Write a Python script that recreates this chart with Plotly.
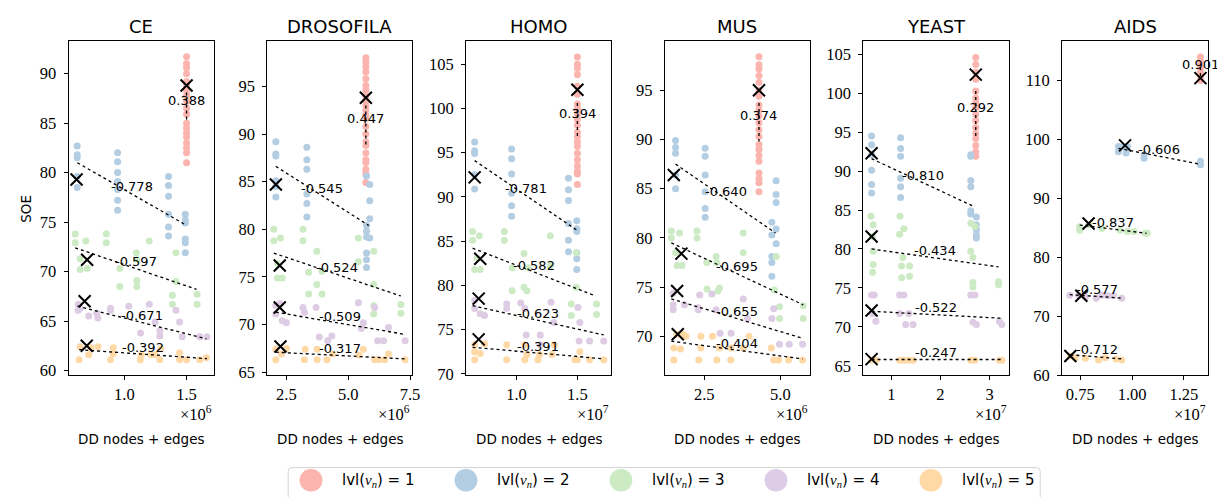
import plotly.graph_objects as go

W, H = 1225, 497
COLORS = ["#fbb4ae", "#b3cde3", "#ccebc5", "#decbe4", "#fed9a6"]
LEVEL_NAMES = ["1", "2", "3", "4", "5"]

# ---------------- CE (x in 1e6) ----------------
CE_X = [
    [1.5] * 19,
    [0.62] * 5 + [0.945] * 7 + [1.355] * 6 + [1.49] * 6,
    [0.604, 0.604, 0.689, 0.644, 0.644, 0.70, 0.854, 0.854, 0.963, 0.963, 1.096, 1.1, 1.1, 1.1, 1.2, 1.415, 1.415, 1.386, 1.386, 1.585, 1.585],
    [0.628, 0.628, 0.644, 0.713, 0.777, 0.787, 0.888, 0.888, 1.035, 1.13, 1.2, 1.247, 1.285, 1.285, 1.415, 1.444, 1.465, 1.606, 1.665],
    [0.636, 0.644, 0.713, 0.73, 0.787, 0.888, 0.91, 0.91, 1.128, 1.136, 1.215, 1.247, 1.285, 1.293, 1.444, 1.444, 1.5, 1.606, 1.66],
]
CE_Y = [
    [91.7, 91.0, 90.6, 90.0, 89.2, 88.8, 88.3, 87.8, 87.2, 86.5, 85.9, 85.0, 84.5, 84.0, 83.6, 83.0, 82.5, 82.0, 81.0],
    [82.7, 81.8, 81.5, 79.6, 78.5, 82.0, 81.1, 80.0, 79.1, 78.3, 77.2, 76.2, 79.6, 78.7, 77.6, 75.8, 74.5, 73.6, 75.8, 75.2, 74.9, 73.3, 72.9, 71.9],
    [73.8, 72.9, 73.1, 71.3, 70.2, 70.3, 73.8, 72.9, 70.3, 68.5, 71.9, 71.2, 69.1, 68.5, 73.1, 71.9, 69.0, 67.6, 66.7, 67.7, 66.7],
    [66.7, 66.1, 66.3, 65.5, 65.8, 65.3, 66.3, 66.1, 66.5, 63.8, 66.7, 64.9, 64.0, 63.5, 66.1, 64.9, 63.4, 63.4, 63.4],
    [61.1, 62.4, 61.6, 62.3, 62.4, 61.1, 62.3, 61.7, 61.1, 61.6, 61.6, 61.6, 61.1, 62.2, 61.8, 61.1, 61.1, 61.1, 61.3],
]
CE_CROSS_X = [1.5, 0.615, 0.70, 0.68, 0.697]
CE_CROSS_Y = [88.8, 79.3, 71.2, 67.0, 62.5]
CE_TREND_X = [[1.5, 1.5], [0.622, 1.495], [0.604, 1.58], [0.622, 1.66], [0.636, 1.665]]
CE_TREND_Y = [[88.1, 85.1], [81.0, 74.7], [72.4, 68.2], [66.5, 63.2], [62.1, 61.2]]
CE_R = ["0.388", "-0.778", "-0.597", "-0.671", "-0.392"]

# ---------------- DROSOFILA (x in 1e6) ----------------
DR_X = [
    [5.713] * 23,
    [2.073] * 6 + [3.327] * 6 + [5.74, 5.87, 5.87, 5.87, 5.74, 5.74, 5.74, 5.87, 5.74, 5.74, 5.74],
    [1.99, 1.99, 2.26, 2.14, 2.14, 2.33, 3.17, 3.17, 3.73, 3.73, 3.94, 3.94, 3.4, 3.4, 5.41, 5.41, 6.03, 6.03, 6.03, 6.03, 7.13, 7.13],
    [2.07, 2.07, 2.23, 2.33, 2.5, 3.17, 3.23, 3.7, 3.83, 4.17, 4.34, 5.41, 5.61, 5.53, 6.07, 6.19, 6.43, 6.63, 7.3],
    [2.07, 2.07, 2.3, 2.5, 3.26, 3.23, 3.74, 3.74, 4.14, 4.37, 5.61, 5.43, 6.07, 6.23, 6.47, 6.63, 7.3],
]
DR_Y = [
    [98.0, 97.5, 97.0, 96.5, 95.8, 95.1, 94.6, 94.0, 93.5, 93.0, 92.5, 92.0, 91.6, 90.8, 90.0, 89.2, 88.8, 88.0, 87.3, 87.0, 86.3, 85.8, 84.9],
    [89.2, 87.9, 87.7, 85.1, 84.5, 83.4, 88.6, 87.3, 86.3, 83.7, 82.7, 81.3, 85.6, 84.7, 83.0, 81.1, 80.4, 79.8, 79.2, 79.1, 77.5, 76.8, 76.0],
    [80.0, 78.8, 79.1, 76.4, 74.9, 74.9, 80.0, 78.8, 77.7, 74.2, 73.2, 75.6, 75.5, 73.2, 76.6, 79.1, 77.7, 74.2, 72.0, 71.1, 72.1, 71.2],
    [72.0, 71.1, 72.2, 70.4, 70.2, 71.8, 71.3, 71.8, 68.7, 68.3, 68.8, 72.3, 70.2, 69.6, 71.8, 68.3, 68.3, 69.7, 68.3],
    [66.3, 67.4, 66.9, 67.5, 67.4, 66.3, 66.3, 67.4, 66.3, 66.9, 67.4, 66.8, 66.3, 66.3, 66.3, 66.9, 66.3],
]
DR_CROSS_X = [5.713, 2.073, 2.23, 2.23, 2.26]
DR_CROSS_Y = [93.8, 84.7, 76.2, 71.8, 67.7]
DR_TREND_X = [[5.713, 5.713], [2.073, 5.833], [1.99, 7.13], [2.07, 7.23], [2.07, 7.3]]
DR_TREND_Y = [[93.0, 88.7], [86.6, 80.4], [77.5, 73.0], [71.3, 69.0], [67.1, 66.4]]
DR_R = ["0.447", "-0.545", "-0.524", "-0.509", "-0.317"]

# ---------------- HOMO (x in 1e7) ----------------
HO_X = [
    [1.5] * 21,
    [0.657] * 5 + [0.96] * 6 + [1.427] * 6 + [1.495] * 6,
    [0.64, 0.64, 0.695, 0.676, 0.657, 0.703, 0.9, 0.9, 0.965, 0.965, 1.062, 1.062, 1.086, 1.094, 1.278, 1.278, 1.45, 1.45, 1.49, 1.49, 1.657, 1.657],
    [0.657, 0.657, 0.703, 0.738, 0.92, 0.92, 1.035, 1.08, 1.068, 1.195, 1.195, 1.284, 1.305, 1.505, 1.52, 1.514, 1.6, 1.716],
    [0.657, 0.657, 0.657, 0.703, 0.738, 0.92, 0.92, 1.068, 1.068, 1.086, 1.176, 1.19, 1.292, 1.311, 1.48, 1.5, 1.52, 1.6, 1.716],
]
HO_Y = [
    [105.8, 105.0, 104.5, 103.8, 102.5, 101.6, 100.5, 100.0, 99.4, 98.8, 98.1, 97.3, 96.8, 96.2, 95.7, 94.9, 94.2, 93.5, 92.9, 92.6, 91.4],
    [96.2, 95.2, 94.9, 92.5, 90.9, 95.4, 94.3, 92.6, 90.4, 89.0, 87.8, 92.1, 90.8, 89.6, 87.0, 85.1, 83.8, 87.3, 86.4, 86.1, 83.7, 83.0, 81.8],
    [86.1, 85.1, 85.6, 83.1, 81.8, 81.8, 86.1, 85.1, 82.0, 79.4, 83.6, 79.8, 79.4, 82.0, 85.6, 82.2, 77.9, 76.6, 83.7, 79.8, 77.9, 76.7],
    [78.3, 77.4, 76.8, 76.6, 77.9, 77.4, 78.0, 74.4, 77.4, 74.4, 73.3, 78.1, 75.8, 77.5, 75.8, 73.7, 73.7, 73.7],
    [73.3, 72.5, 71.6, 72.3, 73.4, 73.3, 71.6, 73.3, 71.6, 72.2, 71.6, 72.2, 72.2, 73.3, 71.6, 71.6, 72.5, 71.6, 71.6],
]
HO_CROSS_X = [1.5, 0.657, 0.703, 0.69, 0.69]
HO_CROSS_Y = [102.1, 92.2, 83.0, 78.5, 73.9]
HO_TREND_X = [[1.5, 1.5], [0.657, 1.5], [0.64, 1.65], [0.64, 1.716], [0.64, 1.716]]
HO_TREND_Y = [[100.6, 96.6], [94.1, 86.2], [84.2, 78.8], [77.7, 74.4], [73.0, 71.7]]
HO_R = ["0.394", "-0.781", "-0.582", "-0.623", "-0.391"]

# ---------------- MUS (x in 1e6) ----------------
MU_X = [
    [4.297] * 21,
    [1.558] * 5 + [2.53] * 6 + [4.86, 4.86, 4.86, 4.72, 4.86, 4.72, 4.86, 4.72, 4.72, 4.72],
    [1.418, 1.418, 1.69, 1.56, 1.61, 1.77, 2.26, 2.26, 2.59, 2.59, 2.89, 2.91, 3.0, 2.95, 3.78, 3.78, 4.8, 4.86, 4.97, 4.97, 5.75, 5.75],
    [1.48, 1.48, 1.48, 1.85, 2.35, 2.3, 2.3, 2.75, 2.89, 3.02, 3.38, 3.78, 3.92, 4.72, 4.78, 4.97, 5.29, 5.73],
    [1.5, 1.5, 1.72, 1.6, 1.8, 1.9, 2.32, 2.39, 2.39, 2.77, 2.91, 3.0, 3.37, 3.37, 3.97, 3.78, 4.7, 4.78, 4.94, 5.27, 5.73],
]
MU_Y = [
    [98.4, 97.6, 97.2, 96.5, 95.8, 95.0, 94.4, 93.5, 93.0, 92.4, 91.7, 91.0, 90.3, 89.5, 89.0, 88.4, 87.8, 86.6, 86.0, 85.6, 84.7],
    [89.9, 89.2, 88.6, 86.4, 85.0, 89.1, 88.3, 86.4, 84.7, 83.0, 82.1, 85.8, 84.4, 83.6, 81.6, 80.9, 80.3, 79.4, 78.1, 77.5, 76.1],
    [80.7, 80.0, 80.5, 78.5, 77.2, 77.2, 80.7, 80.0, 77.5, 74.8, 78.1, 77.5, 74.9, 74.6, 80.5, 78.5, 74.7, 78.1, 73.0, 71.8, 73.1, 71.8],
    [74.4, 73.2, 72.7, 73.2, 74.2, 72.9, 72.7, 74.3, 72.7, 70.3, 70.3, 73.8, 71.8, 71.8, 72.8, 69.2, 69.2, 69.2],
    [68.8, 67.6, 68.7, 70.2, 70.2, 70.0, 67.6, 70.0, 68.8, 70.0, 67.6, 68.8, 68.8, 67.6, 70.0, 68.8, 68.8, 67.6, 67.6, 67.6, 67.6],
]
MU_CROSS_X = [4.297, 1.5, 1.75, 1.61, 1.63]
MU_CROSS_Y = [95.0, 86.4, 78.4, 74.6, 70.2]
MU_TREND_X = [[4.297, 4.297], [1.558, 4.84], [1.418, 5.75], [1.418, 5.73], [1.418, 5.73]]
MU_TREND_Y = [[93.7, 89.8], [87.5, 80.5], [79.5, 73.2], [73.8, 69.8], [69.5, 67.7]]
MU_R = ["0.374", "-0.640", "-0.695", "-0.655", "-0.404"]

# ---------------- YEAST (x in 1e7) ----------------
YE_X = [
    [2.718] * 16,
    [0.597] * 6 + [1.188] * 6 + [2.617] * 6 + [2.73] * 5,
    [0.584, 0.63, 0.617, 0.63, 0.63, 0.617, 1.174, 1.168, 1.255, 1.235, 1.21, 1.21, 1.37, 1.37, 2.617, 2.617, 2.7, 2.66, 2.66, 2.66, 3.18, 3.18],
    [0.597, 0.65, 0.617, 0.685, 1.168, 1.255, 1.168, 1.356, 1.29, 1.443, 2.617, 2.7, 2.66, 2.73, 3.2, 3.25],
    [0.597, 0.69, 1.168, 1.255, 1.35, 1.443, 2.617, 2.7, 3.2, 3.25],
]
YE_Y = [
    [104.6, 103.7, 102.7, 101.8, 100.3, 99.4, 98.8, 98.2, 97.3, 96.5, 95.6, 94.8, 94.2, 93.3, 92.5, 91.9],
    [94.5, 93.4, 92.1, 90.1, 88.3, 87.2, 94.3, 92.9, 91.9, 89.1, 88.0, 86.6, 92.1, 91.9, 88.8, 88.0, 84.9, 84.5, 84.1, 83.1, 82.5, 81.8, 81.4],
    [84.2, 83.1, 81.6, 79.7, 78.0, 77.0, 84.2, 81.9, 82.6, 78.9, 77.8, 76.3, 77.8, 76.5, 79.7, 83.3, 82.9, 78.9, 75.7, 75.1, 75.8, 75.4],
    [74.1, 74.1, 71.7, 70.7, 74.1, 74.1, 71.7, 71.7, 70.3, 70.3, 74.1, 74.1, 70.6, 70.3, 70.7, 70.3],
    [65.7, 65.7, 65.7, 65.7, 65.7, 65.7, 65.7, 65.7, 65.7, 65.7],
]
YE_CROSS_X = [2.718, 0.597, 0.597, 0.597, 0.597]
YE_CROSS_Y = [102.4, 92.3, 81.6, 72.1, 65.85]
YE_TREND_X = [[2.718, 2.718], [0.597, 2.70], [0.597, 3.18], [0.597, 3.235], [0.597, 3.235]]
YE_TREND_Y = [[100.3, 94.2], [91.6, 85.4], [80.0, 77.7], [72.0, 71.1], [65.8, 65.8]]
YE_R = ["0.292", "-0.810", "-0.434", "-0.522", "-0.247"]

# ---------------- AIDS (x in 1e7) ----------------
AI_X = [
    [1.33] * 6,
    [0.934, 0.934, 0.958, 0.971, 0.978, 1.058, 1.058, 1.33, 1.33],
    [0.747, 0.747, 0.79, 0.854, 0.942, 0.978, 1.01, 1.063, 1.074],
    [0.699, 0.742, 0.774, 0.827, 0.854, 0.883, 0.91, 0.95],
    [0.702, 0.726, 0.774, 0.838, 0.87, 0.923, 0.95],
]
AI_Y = [
    [114.0, 113.2, 112.3, 111.5, 110.7, 110.0],
    [98.8, 97.9, 98.8, 97.7, 98.8, 97.4, 96.8, 96.3, 95.7],
    [85.2, 84.6, 85.5, 84.9, 84.6, 84.4, 84.4, 84.1, 84.1],
    [73.6, 73.6, 73.3, 73.1, 73.6, 73.5, 73.5, 73.1],
    [63.3, 63.0, 62.9, 62.6, 63.0, 62.8, 62.6],
]
AI_CROSS_X = [1.33, 0.966, 0.79, 0.755, 0.702]
AI_CROSS_Y = [110.4, 99.0, 85.75, 73.5, 63.3]
AI_TREND_X = [[1.33, 1.33], [0.934, 1.33], [0.747, 1.07], [0.699, 0.958], [0.702, 0.958]]
AI_TREND_Y = [[112.3, 110.7], [98.5, 95.8], [85.5, 84.1], [73.7, 73.1], [63.5, 62.8]]
AI_R = ["0.901", "-0.606", "-0.837", "-0.577", "-0.712"]

TITLES = ["CE", "DROSOFILA", "HOMO", "MUS", "YEAST", "AIDS"]
EXPONENTS = ["6", "6", "7", "6", "7", "7"]
X_TICKS = [[1.0, 1.5], [2.5, 5.0, 7.5], [1.0, 1.5], [2.5, 5.0], [1, 2, 3], [0.75, 1.00, 1.25]]
X_TICKTEXT = [["1.0", "1.5"], ["2.5", "5.0", "7.5"], ["1.0", "1.5"], ["2.5", "5.0"], ["1", "2", "3"], ["0.75", "1.00", "1.25"]]
Y_TICKS = [list(range(60, 91, 5)), list(range(65, 96, 5)), list(range(70, 106, 5)),
           list(range(70, 96, 5)), list(range(65, 106, 5)), list(range(60, 111, 10))]

# layout (pixel geometry)
X_RANGES = [[0.551, 1.718], [1.727, 7.593], [0.586, 1.776], [1.201, 5.963], [0.43, 3.403], [0.662, 1.367]]
Y_RANGES = [[59.5, 93.27], [64.66, 99.73], [69.82, 107.58], [66.02, 99.98], [63.75, 106.68], [60.0, 116.64]]
PX_LEFT = [61, 261, 461, 661, 861, 1061]
PX_RIGHT = [207, 407, 607, 807, 1008, 1208]
PX_TOP, PX_BOTTOM = 34, 375

DATA = [
    (CE_X, CE_Y, CE_CROSS_X, CE_CROSS_Y, CE_TREND_X, CE_TREND_Y, CE_R),
    (DR_X, DR_Y, DR_CROSS_X, DR_CROSS_Y, DR_TREND_X, DR_TREND_Y, DR_R),
    (HO_X, HO_Y, HO_CROSS_X, HO_CROSS_Y, HO_TREND_X, HO_TREND_Y, HO_R),
    (MU_X, MU_Y, MU_CROSS_X, MU_CROSS_Y, MU_TREND_X, MU_TREND_Y, MU_R),
    (YE_X, YE_Y, YE_CROSS_X, YE_CROSS_Y, YE_TREND_X, YE_TREND_Y, YE_R),
    (AI_X, AI_Y, AI_CROSS_X, AI_CROSS_Y, AI_TREND_X, AI_TREND_Y, AI_R),
]

SANS = "DejaVu Sans"
SERIF = "Liberation Serif"


def px(xp):
    return xp / W


def py(yp):
    return (H - yp) / H


fig = go.Figure()
layout = dict(
    width=W, height=H, autosize=False,
    margin=dict(l=0, r=0, t=0, b=0),
    paper_bgcolor="white", plot_bgcolor="white",
    showlegend=False,
)
annotations = []
shapes = []
ydom = [py(PX_BOTTOM), py(PX_TOP)]

for i, (xs, ys, cx, cy, tx, ty, rr) in enumerate(DATA):
    k = "" if i == 0 else str(i + 1)
    xref, yref = "x" + k, "y" + k
    for lvl in range(5):
        fig.add_trace(go.Scatter(
            x=xs[lvl], y=ys[lvl], mode="markers", xaxis=xref, yaxis=yref,
            name="lvl " + LEVEL_NAMES[lvl],
            marker=dict(color=COLORS[lvl], size=7, line=dict(width=0)),
            hoverinfo="skip"))
    for lvl in range(5):
        fig.add_trace(go.Scatter(
            x=tx[lvl], y=ty[lvl], mode="lines", xaxis=xref, yaxis=yref,
            line=dict(color="black", width=1.3, dash="dot"),
            hoverinfo="skip"))
    fig.add_trace(go.Scatter(
        x=cx, y=cy, mode="markers", xaxis=xref, yaxis=yref,
        marker=dict(symbol="x-thin", size=12, line=dict(color="black", width=2)),
        hoverinfo="skip"))
    for lvl in range(5):
        annotations.append(dict(
            x=(tx[lvl][0] + tx[lvl][1]) / 2, y=(ty[lvl][0] + ty[lvl][1]) / 2,
            xref=xref, yref=yref, text=rr[lvl], showarrow=False,
            xanchor="center", yanchor="middle", yshift=7,
            font=dict(family=SANS, size=13, color="black")))
    xd = [px(PX_LEFT[i]), px(PX_RIGHT[i])]
    axis_common = dict(showline=True, linecolor="black", linewidth=1, mirror=True,
                       ticks="outside", ticklen=4, tickwidth=1, tickcolor="black",
                       showgrid=False, zeroline=False,
                       tickfont=dict(family=SERIF, size=16.5, color="black"))
    layout["xaxis" + k] = dict(domain=xd, anchor=yref, range=X_RANGES[i],
                               tickvals=X_TICKS[i], ticktext=X_TICKTEXT[i],
                               ticklabelstandoff=0, **axis_common)
    layout["yaxis" + k] = dict(domain=ydom, anchor=xref, range=Y_RANGES[i],
                               tickvals=Y_TICKS[i], ticktext=[str(v) for v in Y_TICKS[i]],
                               ticklabelstandoff=4, **axis_common)
    xc = (xd[0] + xd[1]) / 2
    annotations.append(dict(x=xc, y=py(19), xref="paper", yref="paper", text=TITLES[i],
                            showarrow=False, xanchor="center", yanchor="middle",
                            font=dict(family=SANS, size=18, color="black")))
    annotations.append(dict(x=xc, y=py(440), xref="paper", yref="paper", text="DD nodes + edges",
                            showarrow=False, xanchor="center", yanchor="middle",
                            font=dict(family=SANS, size=13.5, color="black")))
    annotations.append(dict(x=xd[1], y=py(414), xref="paper", yref="paper",
                            text="×10<sup>" + EXPONENTS[i] + "</sup>",
                            showarrow=False, xanchor="right", yanchor="middle",
                            font=dict(family=SERIF, size=16.5, color="black")))

annotations.append(dict(x=px(18), y=py(205), xref="paper", yref="paper", text="SOE",
                        showarrow=False, textangle=-90, xanchor="center", yanchor="middle",
                        font=dict(family=SANS, size=13.5, color="black")))

# ---- legend (drawn as a framed row of circles and labels) ----
LEG_L, LEG_R, LEG_T, LEG_B = 282, 1039, 469, 503
LEG_STEP, LEG_CX0, LEG_CY, LEG_RAD, LEG_TX0 = 156, 305, 482, 11.5, 334
rc = 4
path = (f"M {px(LEG_L + rc)} {py(LEG_T)} L {px(LEG_R - rc)} {py(LEG_T)} "
        f"Q {px(LEG_R)} {py(LEG_T)} {px(LEG_R)} {py(LEG_T + rc)} "
        f"L {px(LEG_R)} {py(LEG_B - rc)} Q {px(LEG_R)} {py(LEG_B)} {px(LEG_R - rc)} {py(LEG_B)} "
        f"L {px(LEG_L + rc)} {py(LEG_B)} Q {px(LEG_L)} {py(LEG_B)} {px(LEG_L)} {py(LEG_B - rc)} "
        f"L {px(LEG_L)} {py(LEG_T + rc)} Q {px(LEG_L)} {py(LEG_T)} {px(LEG_L + rc)} {py(LEG_T)} Z")
shapes.append(dict(type="path", path=path, xref="paper", yref="paper",
                   line=dict(color="#d4d4d4", width=1), fillcolor="white", layer="below"))
for lvl in range(5):
    cxp = LEG_CX0 + LEG_STEP * lvl
    shapes.append(dict(type="circle", xref="paper", yref="paper",
                       x0=px(cxp - LEG_RAD), x1=px(cxp + LEG_RAD),
                       y0=py(LEG_CY + LEG_RAD), y1=py(LEG_CY - LEG_RAD),
                       fillcolor=COLORS[lvl], line=dict(width=0)))
    annotations.append(dict(
        x=px(LEG_TX0 + LEG_STEP * lvl), y=py(LEG_CY), xref="paper", yref="paper",
        text=("lvl(<span style='font-family:Liberation Serif'><i>v</i><sub><i>n</i></sub></span>) = "
              + LEVEL_NAMES[lvl]),
        showarrow=False, xanchor="left", yanchor="middle",
        font=dict(family=SANS, size=15, color="black")))

layout["annotations"] = annotations
layout["shapes"] = shapes
fig.update_layout(**layout)

fig.write_html("out.html", config={"displayModeBar": False})
